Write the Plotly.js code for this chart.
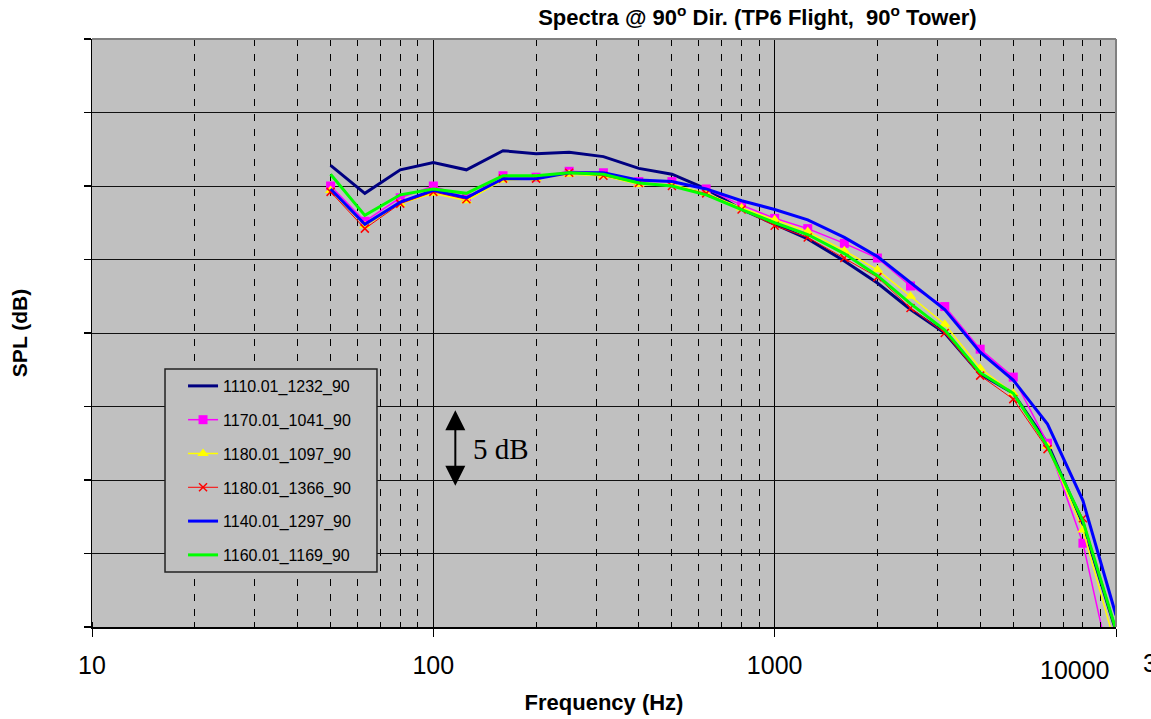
<!DOCTYPE html>
<html>
<head>
<meta charset="utf-8">
<script src="https://cdn.plot.ly/plotly-3.0.1.min.js"></script>
<style>html,body{margin:0;padding:0;background:#fff;}#chart{width:1151px;height:719px;}</style>
</head>
<body>
<div id="chart"></div>
<script>
const freqs = [50,63,80,100,125,160,200,250,315,400,500,630,800,1000,1250,1600,2000,2500,3150,4000,5000,6300,8000,10000];
const names = ["1110.01_1232_90","1170.01_1041_90","1180.01_1097_90","1180.01_1366_90","1140.01_1297_90","1160.01_1169_90"];
const navy    = [91.4,89.5,91.1,91.6,91.1,92.4,92.2,92.3,92.0,91.2,90.8,89.8,88.4,87.4,86.4,84.9,83.4,81.6,80.0,77.2,75.9,72.5,67.0,59.7];
const magenta = [90.0,87.6,89.2,90.0,89.2,90.7,90.6,91.0,90.9,90.3,90.3,89.8,88.7,87.8,87.1,86.1,85.1,83.2,81.8,78.9,77.0,72.5,65.7,55.6];
const yellow  = [89.7,87.3,88.8,89.5,89.0,90.4,90.5,90.8,90.7,90.1,90.1,89.5,88.5,87.7,86.9,85.6,84.3,82.5,80.6,77.6,75.9,72.3,66.6,58.6];
const red     = [89.6,87.1,88.8,89.6,89.1,90.5,90.5,90.9,90.7,90.2,90.0,89.5,88.4,87.3,86.5,85.1,83.8,81.7,80.0,77.1,75.5,72.1,67.4,59.6];
const blue    = [89.8,87.4,88.9,89.7,89.2,90.5,90.5,90.9,90.9,90.4,90.3,89.8,89.0,88.4,87.7,86.5,85.2,83.4,81.6,78.7,76.8,73.8,68.6,60.8];
const green   = [90.8,88.0,89.4,89.8,89.5,90.7,90.7,90.9,90.8,90.2,90.0,89.4,88.4,87.5,86.7,85.4,83.9,82.0,80.2,77.3,75.9,72.3,67.2,59.8];
const xTickVals = [10,100,1000,10000];
const xTickText = ["10","100","1000",""];
const yRange = [60,100];
const arrowFreq = 116;
const arrowTop = 74.75;
const arrowBottom = 69.5;

const FONT = "Liberation Sans, Arial, sans-serif";
function tr(y, i, color, width, marker) {
  const t = {x: freqs, y: y, name: names[i], type: 'scatter', legendgroup: 'g'+i,
    mode: marker ? 'lines+markers' : 'lines', line: {color: color, width: width}};
  if (marker) t.marker = marker;
  return t;
}
const data = [
  tr(navy, 0, '#000080', 3),
  tr(magenta, 1, '#ff00ff', 1.5, {symbol: 'square', size: 9, color: '#ff00ff'}),
  tr(yellow, 2, '#ffff00', 1.5, {symbol: 'triangle-up', size: 10, color: '#ffff00'}),
  tr(red, 3, '#ff0000', 1, {symbol: 'x-thin-open', size: 8, color: '#ff0000', line: {color: '#ff0000', width: 1.5}}),
  tr(blue, 4, '#0000ff', 3),
  tr(green, 5, '#00ff00', 3)
];

const layout = {
  width: 1151, height: 719,
  margin: {l: 92, r: 35, t: 39, b: 92},
  paper_bgcolor: '#ffffff', plot_bgcolor: '#c0c0c0',
  font: {family: FONT, color: '#000'},
  title: {text: 'Spectra @ 90<sup>o</sup> Dir. (TP6 Flight,\u00a0 90<sup>o</sup> Tower)',
    font: {size: 22, family: FONT, weight: 700, color: '#000'},
    xref: 'container', x: 0.658, xanchor: 'center', y: 0.976, yanchor: 'middle'},
  showlegend: true,
  legend: {x: 0.0889, y: 0.4388, xanchor: 'left', yanchor: 'top',
    bgcolor: 'rgba(0,0,0,0)', borderwidth: 0,
    font: {size: 16, family: FONT, color: '#000'},
    traceorder: 'grouped', tracegroupgap: 10, itemwidth: 30},
  xaxis: {type: 'log', range: [1, 4], tickmode: 'array', tickvals: xTickVals, ticktext: xTickText,
    ticks: 'outside', ticklen: 8, tickcolor: '#000', tickwidth: 1,
    ticklabelstandoff: 7,
    showgrid: true, gridcolor: '#000', gridwidth: 1,
    showline: true, linecolor: '#000', linewidth: 1.5,
    tickfont: {size: 25, family: FONT, color: '#000'},
    minor: {dtick: 'D1', showgrid: true, gridcolor: '#000', gridwidth: 1, griddash: '7px,8px',
      ticks: 'inside', ticklen: 5, tickcolor: '#000'},
    title: {text: 'Frequency (Hz)', font: {size: 22, family: FONT, weight: 700, color: '#000'}, standoff: 17},
    zeroline: false},
  yaxis: {range: yRange, dtick: 5, tick0: 60, showticklabels: false,
    ticks: 'outside', ticklen: 7, tickcolor: '#000', tickwidth: 1.5,
    showgrid: true, gridcolor: '#111', gridwidth: 1,
    showline: true, linecolor: '#000', linewidth: 1.5, zeroline: false,
    title: {text: 'SPL (dB)', font: {size: 21, family: FONT, weight: 700, color: '#000'}, standoff: 50}},
  shapes: [
    {type: 'line', xref: 'paper', yref: 'paper', x0: 0, x1: 1, y0: 1, y1: 1, line: {color: '#808080', width: 2}, layer: 'above'},
    {type: 'line', xref: 'paper', yref: 'paper', x0: 1, x1: 1, y0: 0, y1: 1, line: {color: '#808080', width: 2}, layer: 'above'},
    {type: 'rect', xref: 'paper', yref: 'paper', x0: 0.0713, x1: 0.2783, y0: 0.0935, y1: 0.4388,
     fillcolor: '#c0c0c0', line: {color: '#222', width: 1.5}, layer: 'above'}
  ],
  annotations: [
    {x: Math.log10(arrowFreq), y: arrowTop, xref: 'x', yref: 'y', ax: Math.log10(arrowFreq), ay: arrowBottom,
     axref: 'x', ayref: 'y', text: '', showarrow: true, arrowside: 'end+start', arrowhead: 2, startarrowhead: 2,
     arrowsize: 2, startarrowsize: 2, arrowwidth: 2, arrowcolor: '#000'},
    {x: Math.log10(arrowFreq), y: (arrowTop + arrowBottom) / 2, xref: 'x', yref: 'y', xshift: 16, xanchor: 'left',
     text: '5 dB', showarrow: false, font: {family: 'Liberation Serif, Times New Roman, serif', size: 29, color: '#000'}},
    {x: 4, y: 0, xref: 'x', yref: 'paper', xanchor: 'right', yanchor: 'top', xshift: -4, yshift: -27,
     text: '10000', showarrow: false, font: {size: 25, family: FONT, color: '#000'}},
    {x: 1, y: 0, xref: 'paper', yref: 'paper', xanchor: 'left', yanchor: 'top', xshift: 25, yshift: -20,
     text: '3', showarrow: false, font: {size: 25, family: FONT, color: '#000'}}
  ]
};
Plotly.newPlot('chart', data, layout, {displayModeBar: false, staticPlot: true});
</script>
</body>
</html>
